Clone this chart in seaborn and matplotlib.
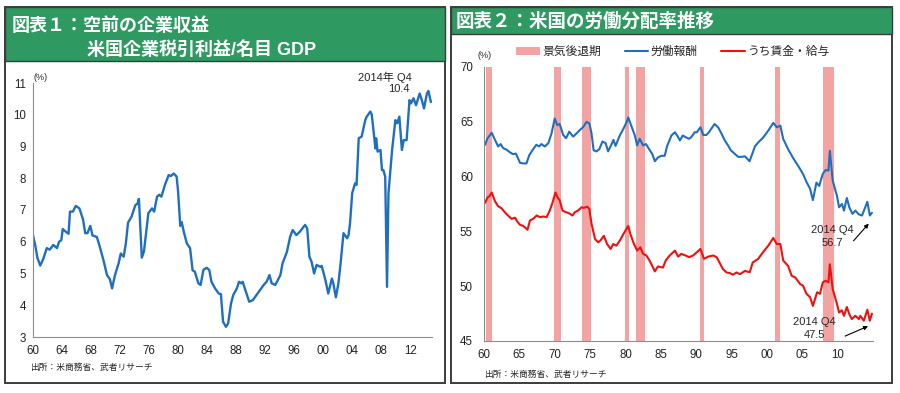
import matplotlib
matplotlib.use('Agg')
import matplotlib.pyplot as plt
from matplotlib.patches import Rectangle, Patch
from matplotlib.lines import Line2D
import seaborn as sns
import pandas as pd

# Estilo y fuentes (la lista va despues de set_style)
sns.set_style("white")
plt.rcParams['font.family'] = ['Liberation Sans', 'Noto Sans CJK JP']

# ---- Datos: 図表1 米国企業税引利益/名目GDP (%) ----
corp_year = [1960.0, 1960.3, 1960.6, 1961.0, 1961.4, 1961.9, 1962.3, 1962.8, 1963.3, 1963.6,
             1963.9, 1964.1, 1964.6, 1964.9, 1965.1, 1965.5, 1965.9, 1966.4, 1966.9, 1967.2,
             1967.5, 1967.9, 1968.2, 1968.8, 1969.2, 1969.7, 1970.2, 1970.6, 1970.9, 1971.3,
             1971.8, 1972.1, 1972.5, 1972.8, 1973.1, 1973.6, 1974.1, 1974.4, 1974.6, 1975.0,
             1975.3, 1975.6, 1975.9, 1976.4, 1976.7, 1977.1, 1977.4, 1977.7, 1978.2, 1978.7,
             1979.0, 1979.4, 1979.8, 1980.0, 1980.3, 1980.5, 1980.8, 1981.2, 1981.65, 1982.0,
             1982.3, 1982.8, 1983.1, 1983.5, 1983.95, 1984.3, 1984.6, 1985.1, 1985.6, 1985.9,
             1986.2, 1986.6, 1986.9, 1987.3, 1987.6, 1988.1, 1988.4, 1988.7, 1988.9, 1989.5,
             1989.8, 1990.3, 1990.8, 1991.2, 1991.8, 1992.2, 1992.6, 1992.9, 1993.4, 1994.1,
             1994.4, 1995.0, 1995.45, 1995.8, 1996.3, 1996.8, 1997.5, 1997.8, 1998.1, 1998.4,
             1998.75, 1999.1, 1999.6, 1999.8, 2000.3, 2000.7, 2001.2, 2001.4, 2001.75, 2002.1,
             2002.4, 2002.8, 2003.3, 2003.5, 2003.7, 2004.0, 2004.4, 2004.6, 2004.9, 2005.3,
             2005.8, 2006.0, 2006.5, 2006.7, 2007.2, 2007.3, 2007.5, 2007.9, 2008.1, 2008.3,
             2008.55, 2008.8, 2009.0, 2009.5, 2009.95, 2010.2, 2010.5, 2010.85, 2011.1, 2011.5,
             2011.9, 2012.1, 2012.45, 2012.8, 2013.3, 2013.6, 2013.9, 2014.3, 2014.5, 2014.85]
corp_value = [6.2, 5.9, 5.5, 5.25, 5.45, 5.8, 5.75, 5.9, 5.8, 6.0,
              6.05, 6.4, 6.3, 6.25, 6.95, 6.95, 7.13, 7.05, 6.7, 6.27,
              6.27, 6.5, 6.2, 6.15, 5.85, 5.43, 4.95, 4.82, 4.53, 4.95,
              5.32, 5.63, 5.53, 5.95, 6.6, 6.8, 7.15, 7.2, 7.35, 5.5,
              5.7, 6.3, 6.9, 7.05, 6.95, 7.42, 7.48, 7.42, 7.8, 8.1,
              8.07, 8.15, 8.05, 7.58, 6.5, 6.62, 6.3, 5.95, 5.8, 5.1,
              5.06, 4.69, 4.64, 5.12, 5.18, 5.11, 4.74, 4.53, 4.37, 4.35,
              3.48, 3.32, 3.43, 4.06, 4.32, 4.53, 4.74, 4.69, 4.74, 4.32,
              4.11, 4.16, 4.32, 4.45, 4.64, 4.74, 4.95, 4.69, 4.64, 4.95,
              5.32, 5.68, 6.16, 6.37, 6.21, 6.32, 6.53, 6.42, 5.53, 5.37,
              5.0, 5.27, 5.21, 5.24, 4.8, 4.37, 4.84, 4.69, 4.25, 4.69,
              5.32, 6.27, 6.11, 6.21, 6.58, 7.53, 7.84, 7.79, 9.26, 9.31,
              9.83, 9.94, 10.1, 10.0, 8.94, 9.26, 8.84, 8.89, 8.26, 8.26,
              8.05, 4.58, 7.53, 8.89, 9.83, 9.73, 9.94, 8.89, 9.2, 9.2,
              10.46, 10.36, 10.52, 10.3, 10.67, 10.46, 10.2, 10.67, 10.75, 10.4]

# ---- Datos: 図表2 労働分配率 (%) ----
comp_year = [1960.15, 1960.5, 1960.75, 1961.1, 1961.55, 1962.0, 1962.35, 1962.7, 1963.2, 1963.7,
             1964.1, 1964.5, 1964.75, 1965.1, 1965.55, 1966.0, 1966.4, 1966.95, 1967.4, 1967.8,
             1968.1, 1968.6, 1969.1, 1969.55, 1970.0, 1970.35, 1970.7, 1971.2, 1971.6, 1972.05,
             1972.6, 1973.1, 1973.55, 1974.0, 1974.5, 1974.9, 1975.2, 1975.5, 1975.9, 1976.3,
             1976.75, 1977.2, 1977.55, 1978.0, 1978.3, 1978.6, 1979.2, 1979.7, 1980.15, 1980.4,
             1980.9, 1981.33, 1981.65, 1982.0, 1982.5, 1982.9, 1983.35, 1983.8, 1984.15, 1984.6,
             1985.1, 1985.55, 1985.9, 1986.5, 1987.0, 1987.45, 1987.7, 1988.1, 1988.5, 1989.0,
             1989.3, 1989.8, 1990.1, 1990.6, 1991.0, 1991.45, 1991.8, 1992.6, 1993.1, 1993.6,
             1994.04, 1994.5, 1994.9, 1995.5, 1995.95, 1996.4, 1996.9, 1997.55, 1998.0, 1998.3,
             1998.75, 1999.45, 2000.2, 2000.9, 2001.4, 2001.9, 2002.3, 2003.0, 2003.7, 2004.4,
             2005.1, 2005.6, 2006.1, 2006.5, 2007.0, 2007.4, 2007.9, 2008.3, 2008.7, 2008.9,
             2009.3, 2009.9, 2010.2, 2010.6, 2010.9, 2011.3, 2011.65, 2012.1, 2012.5, 2013.0,
             2013.45, 2014.2, 2014.55, 2014.85]
comp_value = [62.9, 63.5, 63.7, 64.0, 63.35, 62.75, 62.97, 62.6, 62.45, 62.2,
              62.05, 62.1, 61.75, 61.25, 61.2, 61.2, 61.95, 62.5, 62.9, 62.75,
              62.97, 62.75, 63.05, 63.95, 65.3, 64.7, 64.8, 63.8, 63.5, 64.1,
              63.65, 63.95, 64.25, 64.5, 65.0, 64.85, 63.95, 62.4, 62.3, 62.5,
              63.2, 63.05, 62.3, 62.9, 63.35, 62.8, 63.75, 64.35, 64.95, 65.4,
              64.5, 63.75, 62.85, 63.45, 62.85, 62.97, 62.5, 62.05, 61.4, 61.75,
              61.9, 61.9, 62.8, 63.75, 64.05, 63.6, 63.3, 63.75, 63.6, 63.45,
              63.6, 64.05, 64.05, 64.5, 63.8, 63.8, 64.05, 64.8, 64.5, 63.9,
              63.3, 62.85, 62.4, 62.05, 61.8, 61.8, 61.85, 61.4, 62.2, 62.75,
              63.1, 63.55, 64.2, 64.9, 64.5, 64.65, 63.45, 62.5, 61.7, 61.0,
              60.25, 59.5, 58.9, 57.85, 59.45, 59.15, 60.25, 60.6, 60.55, 62.35,
              59.65, 58.25, 57.2, 57.5, 56.9, 58.05, 57.2, 56.6, 56.9, 56.55,
              56.45, 57.7, 56.45, 56.7]

wage_year = [1960.15, 1960.5, 1960.75, 1961.1, 1961.55, 1962.0, 1962.5, 1963.0, 1963.45, 1963.9,
             1964.4, 1964.7, 1965.1, 1965.55, 1966.15, 1966.5, 1966.95, 1967.45, 1967.9, 1968.4,
             1968.85, 1969.3, 1969.7, 1970.1, 1970.4, 1970.7, 1971.1, 1971.6, 1972.05, 1972.5,
             1972.85, 1973.3, 1973.8, 1974.1, 1974.6, 1974.9, 1975.2, 1975.7, 1976.15, 1976.5,
             1976.95, 1977.4, 1977.9, 1978.27, 1978.7, 1979.2, 1979.7, 1980.4, 1980.7, 1981.2,
             1981.65, 1982.1, 1982.5, 1982.96, 1983.4, 1983.9, 1984.15, 1984.6, 1985.3, 1985.7,
             1986.26, 1987.0, 1987.45, 1987.9, 1988.5, 1989.0, 1989.55, 1990.1, 1990.6, 1991.1,
             1991.7, 1992.4, 1992.9, 1993.3, 1993.8, 1994.3, 1994.75, 1995.2, 1995.7, 1996.2,
             1996.9, 1997.57, 1998.0, 1998.75, 1999.45, 2000.2, 2000.9, 2001.4, 2001.9, 2002.3,
             2003.0, 2003.5, 2004.0, 2004.7, 2005.1, 2005.6, 2006.1, 2006.5, 2007.1, 2007.5,
             2007.9, 2008.3, 2008.7, 2008.9, 2009.3, 2009.9, 2010.2, 2010.6, 2010.9, 2011.3,
             2011.65, 2012.0, 2012.5, 2013.0, 2013.2, 2013.7, 2014.2, 2014.55, 2014.85]
wage_value = [57.6, 58.1, 58.2, 58.55, 57.75, 57.3, 57.1, 56.7, 56.42, 56.15,
              56.25, 55.9, 55.6, 55.5, 55.15, 56.0, 56.15, 56.45, 56.3, 56.36,
              56.3, 56.9, 57.65, 58.55, 58.1, 57.85, 56.9, 56.75, 56.65, 56.45,
              56.75, 56.9, 57.2, 57.15, 57.25, 57.05, 55.7, 54.3, 54.0, 54.2,
              54.6, 53.85, 53.4, 53.85, 53.7, 54.15, 54.75, 55.5, 54.75, 53.85,
              53.25, 53.55, 52.95, 52.8, 52.35, 51.7, 51.35, 51.8, 51.7, 52.35,
              52.8, 53.25, 52.7, 52.95, 52.8, 52.65, 52.8, 53.1, 53.4, 52.5,
              52.7, 52.8, 52.65, 52.15, 51.55, 51.25, 51.2, 51.05, 51.25, 51.1,
              51.4, 51.27, 52.17, 52.48, 53.1, 53.7, 54.4, 53.85, 53.85, 52.35,
              51.85, 50.95, 50.8, 50.2, 50.05, 49.3, 49.0, 48.2, 49.45, 49.3,
              50.35, 50.5, 50.35, 52.0, 49.75, 48.4, 47.6, 47.8, 47.3, 48.1,
              47.45, 47.0, 47.3, 47.0, 47.3, 46.85, 47.85, 46.85, 47.5]

# 景気後退期 (NBER)
rec_start = [1960.33, 1969.92, 1973.83, 1980.0, 1981.5, 1990.5, 2001.17, 2007.92]
rec_end = [1961.17, 1970.83, 1975.17, 1980.5, 1982.83, 1991.17, 2001.83, 2009.42]

left_ticks = list(range(1960, 2013, 4))
right_ticks = list(range(1960, 2011, 5))

GREEN = '#2E9A62'
BLUE = '#1E6FC0'
RED = '#F01010'
PINK = '#F4A3A3'
SPINE = '#8C8C8C'

fig = plt.figure(figsize=(9, 3.93), dpi=100)
W, H = 900, 393

# Marcos y barras verdes de titulo
for x0, w, gh in [(5, 440, 54), (451, 441, 27)]:
    fig.add_artist(Rectangle((x0 / W, 1 - 383 / H), w / W, 376 / H, transform=fig.transFigure,
                             fill=False, ec='#3C3C3C', lw=1.4))
    fig.add_artist(Rectangle((x0 / W, 1 - (7 + gh) / H), w / W, gh / H, transform=fig.transFigure,
                             fc=GREEN, ec='#3C3C3C', lw=1.0))

fig.text(12 / W, 1 - 26 / H, '図表１：空前の企業収益', color='white', fontsize=13,
         fontweight='bold', va='center', ha='left')
fig.text(87 / W, 1 - 50 / H, '米国企業税引利益/名目 GDP', color='white', fontsize=13,
         fontweight='bold', va='center', ha='left')
fig.text(456 / W, 1 - 22 / H, '図表２：米国の労働分配率推移', color='white', fontsize=13.3,
         fontweight='bold', va='center', ha='left')

# ---- Grafico izquierdo ----
ax1 = fig.add_axes([33 / W, 1 - 337 / H, 399 / W, 254 / H])
df1 = pd.DataFrame({'year': corp_year, 'value': corp_value})
sns.lineplot(ax=ax1, data=df1, x='year', y='value', color=BLUE, lw=1.7,
             estimator=None, sort=False)
ax1.set_xlim(1960, 2015)
ax1.set_ylim(3, 11)
ax1.set_xticks(left_ticks)
ax1.set_xticklabels([f'{y % 100:02d}' for y in left_ticks])
ax1.set_yticks(range(3, 12))
ax1.text(0.95, 1.024, '2014年 Q4', transform=ax1.transAxes, ha='right', va='center', fontsize=8)
ax1.text(0.945, 0.976, f'{corp_value[-1]:.1f}', transform=ax1.transAxes, ha='right', va='center', fontsize=8)
fig.text(33 / W, 1 - 77 / H, '(%)', fontsize=6.5, ha='left', va='center')
fig.text(30 / W, 1 - 367 / H, '出所：米商務省、武者リサーチ', fontsize=6.3, ha='left', va='center')

# ---- Grafico derecho ----
ax2 = fig.add_axes([484 / W, 1 - 341 / H, 389 / W, 274 / H])
for s, e in zip(rec_start, rec_end):
    ax2.axvspan(s, e, color=PINK, lw=0, zorder=0)
df2 = pd.DataFrame({'year': comp_year, 'value': comp_value})
df3 = pd.DataFrame({'year': wage_year, 'value': wage_value})
sns.lineplot(ax=ax2, data=df2, x='year', y='value', color=BLUE, lw=1.5, estimator=None, sort=False)
sns.lineplot(ax=ax2, data=df3, x='year', y='value', color=RED, lw=1.5, estimator=None, sort=False)
ax2.set_xlim(1960, 2015)
ax2.set_ylim(45, 70)
ax2.set_xticks(right_ticks)
ax2.set_xticklabels([f'{y % 100:02d}' for y in right_ticks])
ax2.set_yticks(range(45, 71, 5))

ax2.text(2009.3, 55.15, '2014 Q4', ha='center', va='center', fontsize=8)
ax2.text(2009.3, 53.95, f'{comp_value[-1]:.1f}', ha='center', va='center', fontsize=8)
ax2.annotate('', xy=(2014.66, 55.9), xytext=(2011.98, 53.95),
             arrowprops=dict(arrowstyle='-|>', color='black', lw=0.8, mutation_scale=6))
ax2.text(2006.75, 46.75, '2014 Q4', ha='center', va='center', fontsize=8)
ax2.text(2006.75, 45.55, f'{wage_value[-1]:.1f}', ha='center', va='center', fontsize=8)
ax2.annotate('', xy=(2014.66, 46.45), xytext=(2010.7, 45.35),
             arrowprops=dict(arrowstyle='-|>', color='black', lw=0.8, mutation_scale=6),
             annotation_clip=False)

handles = [Patch(facecolor=PINK, edgecolor='none', label='景気後退期'),
           Line2D([], [], color=BLUE, lw=1.5, label='労働報酬'),
           Line2D([], [], color=RED, lw=1.5, label='うち賃金・給与')]
fig.legend(handles=handles, loc='center', bbox_to_anchor=(673 / W, 1 - 52 / H), ncol=3,
           frameon=False, fontsize=8.5, handlelength=2.0, handleheight=0.6,
           handletextpad=0.2, columnspacing=2.0)
fig.text(478 / W, 1 - 55 / H, '(%)', fontsize=6.5, ha='left', va='center')
fig.text(484 / W, 1 - 374 / H, '出所：米商務省、武者リサーチ', fontsize=6.3, ha='left', va='center')

# Ejes comunes
for ax, pad_y in [(ax1, 2), (ax2, 5)]:
    sns.despine(ax=ax)
    ax.spines['left'].set_color(SPINE)
    ax.spines['bottom'].set_color(SPINE)
    ax.set_xlabel('')
    ax.set_ylabel('')
    ax.tick_params(axis='both', direction='out', length=3, color=SPINE, labelsize=8.3,
                   labelcolor='#222222')
    ax.tick_params(axis='y', pad=pad_y)
    ax.tick_params(axis='x', pad=3)
    ax.grid(False)

fig.savefig('out.png', dpi=100)
